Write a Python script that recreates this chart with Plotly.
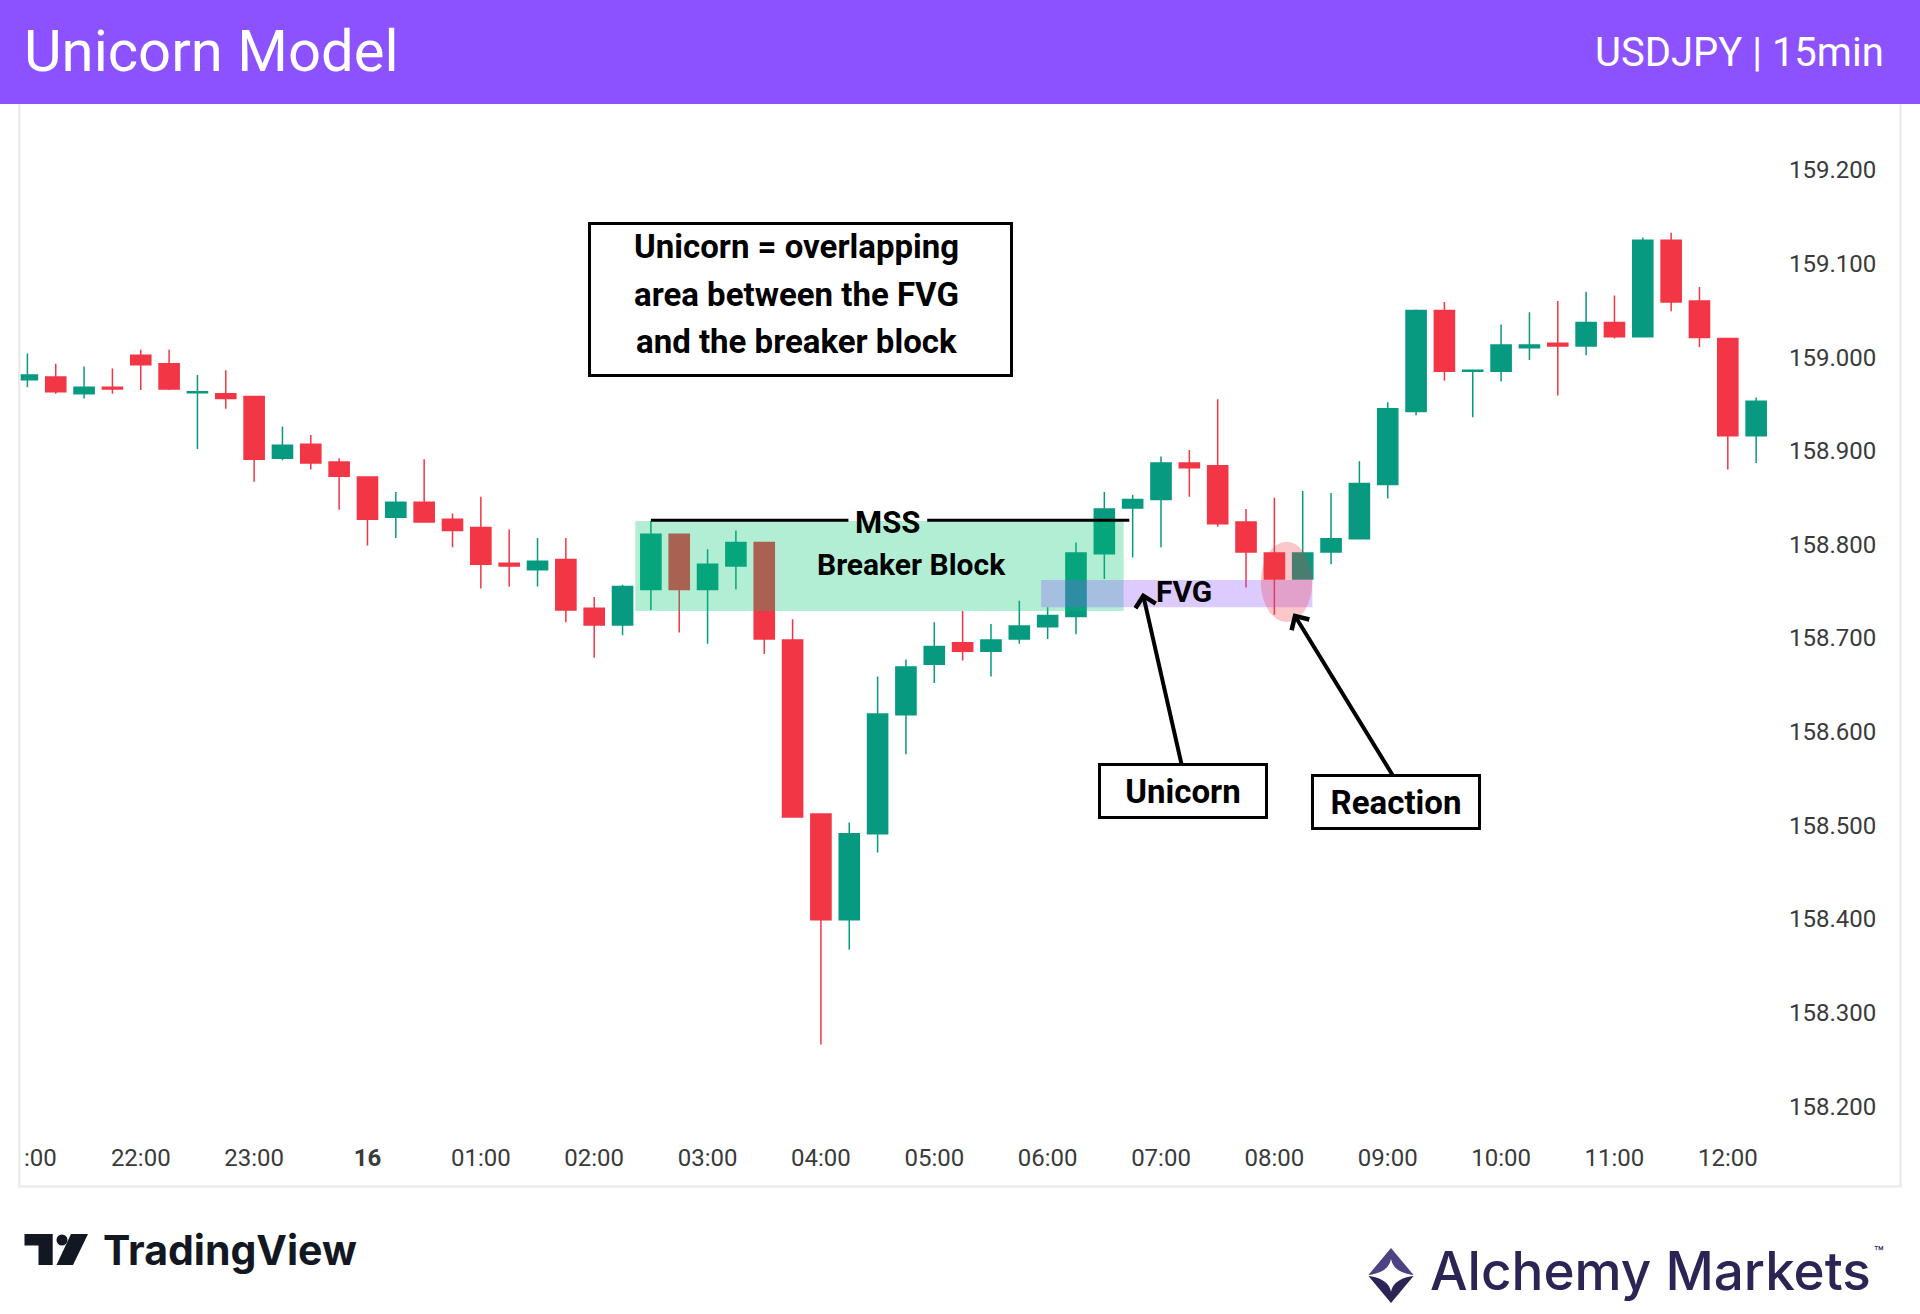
import pandas as pd
import plotly.graph_objects as go

W, H = 1920, 1314

# ---------------- data ----------------
times = pd.date_range("2024-07-15 21:00", periods=62, freq="15min")
open_ = [158.976, 158.979, 158.961, 158.968, 159.002, 158.993, 158.962, 158.961, 158.958, 158.892,
         158.907, 158.888, 158.872, 158.829, 158.845, 158.827, 158.818, 158.780, 158.773, 158.784,
         158.732, 158.714, 158.752, 158.811, 158.752, 158.777, 158.802, 158.698, 158.512, 158.399,
         158.491, 158.618, 158.672, 158.695, 158.686, 158.699, 158.712, 158.723, 158.790, 158.839,
         158.848, 158.887, 158.884, 158.824, 158.791, 158.763, 158.792, 158.806, 158.864, 158.942,
         159.050, 158.985, 158.985, 159.010, 159.015, 159.012, 159.037, 159.022, 159.125, 159.060,
         159.020, 158.916]
high = [159.004, 158.993, 158.990, 158.988, 159.008, 159.008, 158.981, 158.986, 158.958, 158.926,
        158.917, 158.892, 158.872, 158.856, 158.891, 158.833, 158.851, 158.816, 158.807, 158.807,
        158.744, 158.757, 158.825, 158.811, 158.795, 158.815, 158.802, 158.720, 158.512, 158.503,
        158.659, 158.677, 158.717, 158.729, 158.715, 158.740, 158.733, 158.802, 158.856, 158.853,
        158.894, 158.901, 158.955, 158.838, 158.850, 158.857, 158.855, 158.889, 158.952, 159.051,
        159.059, 158.987, 159.035, 159.048, 159.060, 159.070, 159.066, 159.128, 159.133, 159.075,
        159.020, 158.957]
low = [158.968, 158.961, 158.956, 158.961, 158.965, 158.965, 158.902, 158.945, 158.867, 158.890,
       158.880, 158.837, 158.799, 158.807, 158.824, 158.797, 158.753, 158.755, 158.755, 158.717,
       158.679, 158.703, 158.730, 158.706, 158.694, 158.752, 158.683, 158.508, 158.266, 158.367,
       158.471, 158.576, 158.652, 158.676, 158.659, 158.694, 158.699, 158.704, 158.763, 158.786,
       158.797, 158.851, 158.819, 158.754, 158.725, 158.763, 158.779, 158.806, 158.849, 158.938,
       158.975, 158.936, 158.974, 158.997, 158.959, 159.002, 159.020, 159.022, 159.049, 159.011,
       158.880, 158.887]
close = [158.981, 158.963, 158.968, 158.966, 158.992, 158.966, 158.963, 158.956, 158.891, 158.906,
         158.887, 158.873, 158.827, 158.845, 158.824, 158.815, 158.779, 158.777, 158.782, 158.730,
         158.714, 158.755, 158.811, 158.752, 158.779, 158.802, 158.699, 158.509, 158.399, 158.491,
         158.619, 158.669, 158.691, 158.686, 158.698, 158.713, 158.724, 158.791, 158.838, 158.848,
         158.887, 158.882, 158.822, 158.792, 158.763, 158.791, 158.806, 158.865, 158.945, 159.050,
         158.985, 158.986, 159.013, 159.013, 159.012, 159.037, 159.022, 159.125, 159.059, 159.021,
         158.916, 158.953]

tick_times = pd.date_range("2024-07-15 21:00", "2024-07-16 12:00", freq="1h")
tick_labels = ["21:00", "22:00", "23:00", "<b>16</b>", "01:00", "02:00", "03:00", "04:00",
               "05:00", "06:00", "07:00", "08:00", "09:00", "10:00", "11:00", "12:00"]
clipped_first_label = ":00"   # visible remainder of the first label, cut off by the pane edge
price_ticks = [158.2, 158.3, 158.4, 158.5, 158.6, 158.7, 158.8, 158.9, 159.0, 159.1, 159.2]

title_text = "Unicorn Model"
subtitle_text = "USDJPY | 15min"
note_lines = ["Unicorn = overlapping", "area between the FVG", "and the breaker block"]

# ---------------- helpers ----------------
GREEN = "#089981"
RED = "#F23645"
PURPLE = "#8C52FF"


def tx(i):
    """fractional candle index -> timestamp string"""
    return str(times[0] + pd.Timedelta(minutes=15 * i))


def px(x):
    return x / W


def py(y):
    return 1 - y / H


def ppath(points, close_path=True):
    s = "M " + " L ".join(f"{px(x):.6f},{py(y):.6f}" for x, y in points)
    return s + (" Z" if close_path else "")


fig = go.Figure()
fig.add_trace(go.Candlestick(
    x=times, open=open_, high=high, low=low, close=close,
    increasing=dict(line=dict(color=GREEN, width=1.5), fillcolor=GREEN),
    decreasing=dict(line=dict(color=RED, width=1.5), fillcolor=RED),
    whiskerwidth=0, showlegend=False, hoverinfo="skip",
))

axis_font = dict(family="Roboto", size=24, color="#3a3a3a")
fig.update_layout(
    width=W, height=H, margin=dict(l=0, r=0, t=0, b=0),
    paper_bgcolor="white", plot_bgcolor="white",
    boxgap=0.29, boxgroupgap=0, showlegend=False,
    xaxis=dict(domain=[20.5 / W, 1775 / W], type="date",
               range=[tx(-0.2435), tx(61.665)],
               tickvals=list(tick_times), ticktext=tick_labels,
               showgrid=False, zeroline=False, showline=False, ticks="",
               tickfont=axis_font, ticklabelstandoff=6,
               rangeslider=dict(visible=False), fixedrange=True),
    yaxis=dict(domain=[1 - 1135 / H, 1 - 104 / H], side="right",
               range=[158.1692, 159.2705], tickvals=price_ticks, tickformat=".3f",
               showgrid=False, zeroline=False, showline=False, ticks="",
               tickfont=axis_font, ticklabelstandoff=13, fixedrange=True),
)

shapes = []
# --- chart overlays (data coordinates) ---
shapes.append(dict(type="rect", xref="x", yref="y", x0=tx(21.45), x1=tx(38.68), y0=158.729, y1=158.825,
                   fillcolor="rgba(0,200,110,0.3)", line=dict(width=0), layer="above"))
shapes.append(dict(type="rect", xref="x", yref="y", x0=tx(35.77), x1=tx(45.34), y0=158.733, y1=158.762,
                   fillcolor="rgba(140,82,255,0.3)", line=dict(width=0), layer="above"))
shapes.append(dict(type="circle", xref="x", yref="y", x0=tx(43.52), x1=tx(45.34), y0=158.717, y1=158.803,
                   fillcolor="rgba(242,54,69,0.28)", line=dict(width=0), layer="above"))
for a, b in [(22, 28.97), (31.75, 38.88)]:
    shapes.append(dict(type="line", xref="x", yref="y", x0=tx(a), x1=tx(b), y0=158.826, y1=158.826,
                       line=dict(color="black", width=3), layer="above"))

# --- page decorations (paper = whole figure since margins are 0) ---
# chart frame
shapes.append(dict(type="rect", xref="paper", yref="paper", x0=px(19.25), x1=px(1900.5), y0=py(1186.5), y1=py(100),
                   fillcolor="rgba(0,0,0,0)", line=dict(color="#ececec", width=2.5), layer="above"))
# header bar
shapes.append(dict(type="rect", xref="paper", yref="paper", x0=0, x1=1, y0=py(104), y1=1,
                   fillcolor=PURPLE, line=dict(width=0), layer="above"))
# note box
shapes.append(dict(type="rect", xref="paper", yref="paper", x0=px(589.5), x1=px(1011.5), y0=py(375.5), y1=py(223.5),
                   fillcolor="white", line=dict(color="black", width=3), layer="above"))
# TradingView icon
TV = "#131722"
shapes.append(dict(type="path", xref="paper", yref="paper",
                   path=ppath([(24.5, 1234), (52.7, 1234), (52.7, 1265), (38.5, 1265), (38.5, 1245.5), (24.5, 1245.5)]),
                   fillcolor=TV, line=dict(width=0), layer="above"))
shapes.append(dict(type="circle", xref="paper", yref="paper", x0=px(56.5), x1=px(67.5), y0=py(1245.5), y1=py(1234.5),
                   fillcolor=TV, line=dict(width=0), layer="above"))
shapes.append(dict(type="path", xref="paper", yref="paper",
                   path=ppath([(71, 1234), (88, 1234), (73, 1265), (56.5, 1265)]),
                   fillcolor=TV, line=dict(width=0), layer="above"))
# Alchemy Markets icon
cx, cy = 1391, 1275.5
shapes.append(dict(type="path", xref="paper", yref="paper",
                   path=ppath([(cx, 1248), (1414, cy), (1368, cy)]),
                   fillcolor="#4b4382", line=dict(width=0), layer="above"))
shapes.append(dict(type="path", xref="paper", yref="paper",
                   path=ppath([(1368, cy), (1414, cy), (cx, 1303)]),
                   fillcolor="#2b2454", line=dict(width=0), layer="above"))
star = (f"M {px(cx):.6f},{py(1259):.6f} "
        f"Q {px(cx + 2.5):.6f},{py(cy - 2):.6f} {px(1417):.6f},{py(cy):.6f} "
        f"Q {px(cx + 2.5):.6f},{py(cy + 2):.6f} {px(cx):.6f},{py(1292):.6f} "
        f"Q {px(cx - 2.5):.6f},{py(cy + 2):.6f} {px(1365):.6f},{py(cy):.6f} "
        f"Q {px(cx - 2.5):.6f},{py(cy - 2):.6f} {px(cx):.6f},{py(1259):.6f} Z")
shapes.append(dict(type="path", xref="paper", yref="paper", path=star,
                   fillcolor="white", line=dict(width=0), layer="above"))

fig.update_layout(shapes=shapes)

ann = []
bold = lambda s: dict(family="Roboto", size=s, color="black", weight="bold")
# clipped first time label
ann.append(dict(xref="paper", yref="paper", x=px(22), y=py(1158), xanchor="left", yanchor="middle",
                text=clipped_first_label, showarrow=False, font=axis_font))
# chart labels
ann.append(dict(xref="x", yref="y", x=tx(30.36), y=158.824, text="MSS", showarrow=False, font=bold(31)))
ann.append(dict(xref="x", yref="y", x=tx(31.21), y=158.779, text="Breaker Block", showarrow=False, font=bold(30)))
ann.append(dict(xref="x", yref="y", x=tx(40.80), y=158.750, text="FVG", showarrow=False, font=bold(30)))
# arrows (drawn before boxes)
for tip_i, tip_p, tail_i, tail_p in [(39.35, 158.7485, 40.77, 158.5591), (44.67, 158.7265, 48.32, 158.5463)]:
    ann.append(dict(xref="x", yref="y", axref="x", ayref="y", x=tx(tip_i), y=tip_p, ax=tx(tail_i), ay=tail_p,
                    text="", showarrow=True, arrowhead=4, arrowsize=1, arrowwidth=4, arrowcolor="black",
                    standoff=0, startstandoff=0))
# label boxes
ann.append(dict(xref="x", yref="y", x=tx(40.77), y=158.5367, text="Unicorn", showarrow=False, font=bold(33),
                width=164, height=50, bgcolor="white", bordercolor="black", borderwidth=3, borderpad=0))
ann.append(dict(xref="x", yref="y", x=tx(48.30), y=158.5249, text="Reaction", showarrow=False, font=bold(33),
                width=164, height=50, bgcolor="white", bordercolor="black", borderwidth=3, borderpad=0,
                yshift=0))
# note box lines
for line, yy in zip(note_lines, [247, 294.5, 341]):
    ann.append(dict(xref="paper", yref="paper", x=px(796), y=py(yy), xanchor="center", yanchor="middle",
                    text=line, showarrow=False, font=bold(33)))
# header
ann.append(dict(xref="paper", yref="paper", x=px(22), y=py(51), xanchor="left", yanchor="middle",
                text=title_text, showarrow=False, font=dict(family="Roboto", size=58, color="white")))
ann.append(dict(xref="paper", yref="paper", x=px(1886), y=py(52), xanchor="right", yanchor="middle",
                text=subtitle_text, showarrow=False, font=dict(family="Roboto", size=40, color="white")))
# footer logos
ann.append(dict(xref="paper", yref="paper", x=px(101), y=py(1249.5), xanchor="left", yanchor="middle",
                text="TradingView", showarrow=False, font=dict(family="Inter", size=41, color=TV, weight=700)))
ann.append(dict(xref="paper", yref="paper", x=px(1428), y=py(1271), xanchor="left", yanchor="middle",
                text="Alchemy Markets", showarrow=False, font=dict(family="Inter", size=53, color="#2b2454", weight=500)))
ann.append(dict(xref="paper", yref="paper", x=px(1879), y=py(1252), xanchor="center", yanchor="middle",
                text="™", showarrow=False, font=dict(family="Inter", size=16, color="#2b2454")))

fig.update_layout(annotations=ann)
fig.write_html("out.html")
